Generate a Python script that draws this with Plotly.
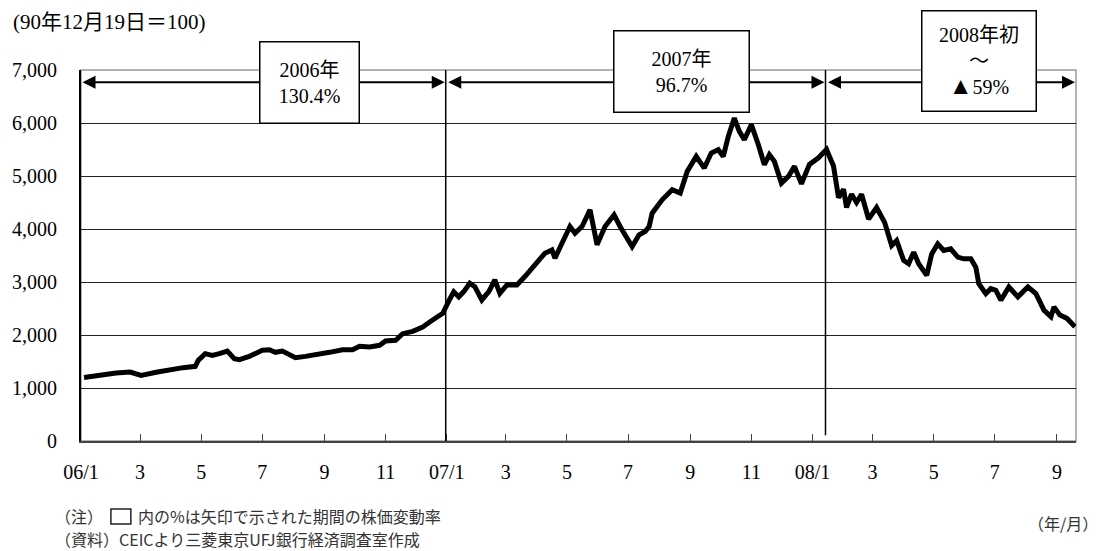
import plotly.graph_objects as go

# Shanghai composite index (1990-12-19 = 100), sampled roughly weekly
dates = [
    "2006-01-04", "2006-01-16", "2006-02-05", "2006-02-19", "2006-03-02", "2006-03-17",
    "2006-03-31", "2006-04-13", "2006-04-25", "2006-04-28", "2006-05-05", "2006-05-12",
    "2006-05-19", "2006-05-27", "2006-06-03", "2006-06-08", "2006-06-18", "2006-07-01",
    "2006-07-08", "2006-07-14", "2006-07-21", "2006-07-28", "2006-08-03", "2006-08-13",
    "2006-08-23", "2006-09-06", "2006-09-19", "2006-09-29", "2006-10-06", "2006-10-16",
    "2006-10-26", "2006-11-01", "2006-11-11", "2006-11-18", "2006-11-28", "2006-12-08",
    "2006-12-15", "2006-12-25", "2006-12-28", "2007-01-04", "2007-01-08", "2007-01-13",
    "2007-01-18", "2007-01-24", "2007-01-29", "2007-02-05", "2007-02-12", "2007-02-18",
    "2007-02-23", "2007-03-02", "2007-03-12", "2007-03-20", "2007-03-30", "2007-04-09",
    "2007-04-16", "2007-04-19", "2007-04-26", "2007-05-04", "2007-05-09", "2007-05-16",
    "2007-05-24", "2007-05-31", "2007-06-08", "2007-06-17", "2007-06-23", "2007-06-27",
    "2007-06-30", "2007-07-05", "2007-07-12", "2007-07-18", "2007-07-22", "2007-07-25",
    "2007-08-04", "2007-08-14", "2007-08-22", "2007-08-29", "2007-09-07", "2007-09-15",
    "2007-09-22", "2007-09-29", "2007-10-04", "2007-10-09", "2007-10-15", "2007-10-20",
    "2007-10-25", "2007-11-01", "2007-11-08", "2007-11-14", "2007-11-19", "2007-11-24",
    "2007-12-01", "2007-12-08", "2007-12-14", "2007-12-21", "2007-12-29", "2008-01-07",
    "2008-01-15", "2008-01-22", "2008-01-27", "2008-02-01", "2008-02-04", "2008-02-09",
    "2008-02-14", "2008-02-19", "2008-02-26", "2008-03-05", "2008-03-13", "2008-03-20",
    "2008-03-25", "2008-04-01", "2008-04-06", "2008-04-11", "2008-04-16", "2008-04-24",
    "2008-04-29", "2008-05-05", "2008-05-11", "2008-05-18", "2008-05-25", "2008-05-31",
    "2008-06-07", "2008-06-12", "2008-06-15", "2008-06-22", "2008-06-27", "2008-07-02",
    "2008-07-07", "2008-07-15", "2008-07-24", "2008-08-03", "2008-08-11", "2008-08-19",
    "2008-08-26", "2008-08-29", "2008-09-04", "2008-09-11", "2008-09-19",
]
index_values = [
    1200, 1233, 1283, 1302, 1239, 1296,
    1346, 1384, 1409, 1522, 1648, 1616,
    1648, 1698, 1553, 1535, 1597, 1711,
    1723, 1673, 1698, 1616, 1572, 1597,
    1623, 1673, 1723, 1723, 1786, 1774,
    1805, 1887, 1899, 2025, 2069, 2151,
    2245, 2371, 2409, 2675, 2815, 2720,
    2819, 2976, 2913, 2661, 2819, 3039,
    2787, 2945, 2945, 3102, 3323, 3543,
    3606, 3449, 3732, 4047, 3921, 4047,
    4362, 3701, 4047, 4268, 4047, 3921,
    3858, 3669, 3890, 3953, 4047, 4299,
    4551, 4740, 4677, 5087, 5370, 5150,
    5433, 5496, 5370, 5748, 6094, 5843,
    5685, 5969, 5591, 5213, 5402, 5276,
    4866, 4992, 5181, 4855, 5219, 5344,
    5500, 5188, 4590, 4750, 4406, 4656,
    4500, 4656, 4188, 4406, 4125, 3688,
    3781, 3406, 3344, 3563, 3344, 3125,
    3531, 3719, 3594, 3625, 3469, 3438,
    3438, 3281, 2969, 2781, 2875, 2844,
    2656, 2906, 2719, 2906, 2781, 2469,
    2344, 2531, 2375, 2313, 2156,
]

tick_dates = [
    "2006-01-01", "2006-03-01", "2006-05-01", "2006-07-01", "2006-09-01", "2006-11-01",
    "2007-01-01", "2007-03-01", "2007-05-01", "2007-07-01", "2007-09-01", "2007-11-01",
    "2008-01-01", "2008-03-01", "2008-05-01", "2008-07-01", "2008-09-01",
]
tick_labels = ["06/1", "3", "5", "7", "9", "11", "07/1", "3", "5", "7", "9", "11",
               "08/1", "3", "5", "7", "9"]

# Periods marked with arrows and their change rates
period_starts = ["2006-01-01", "2007-01-01", "2008-01-15"]
period_ends = ["2006-12-30", "2008-01-13", "2008-09-19"]
period_texts = [
    "2006年<br>130.4%",
    "2007年<br>96.7%",
    "2008年初<br>～<br><span style='font-size:24px'>▲</span>59%",
]
divider_dates = ["2006-12-31", "2008-01-14"]

W, H = 1103, 551
L, R, T, B = 78, 1076, 70, 441
SERIF = "Liberation Serif, Noto Sans CJK JP"
SANS = "Noto Sans CJK JP, Noto Sans"


def px_x(p):
    return (p - L) / (R - L)


def px_y(p):
    return (B - p) / (B - T)


fig = go.Figure()
fig.add_trace(go.Scatter(
    x=dates, y=index_values, mode="lines",
    line=dict(color="black", width=5), showlegend=False, hoverinfo="skip",
))

arrow_y = 6770
annotations = []
for s, e in zip(period_starts, period_ends):
    annotations.append(dict(
        x=e, y=arrow_y, ax=s, ay=arrow_y, xref="x", yref="y", axref="x", ayref="y",
        showarrow=True, arrowhead=2, startarrowhead=2, arrowside="end+start",
        arrowsize=1.3, startarrowsize=1.3, arrowwidth=2, arrowcolor="black", text="",
    ))

box_specs = [  # centre x date, centre y px, width, height
    ("2006-08-17", 83, 98, 80),
    ("2007-08-23", 71, 134, 80),
    ("2008-06-15", 61, 113, 99),
]
for (cx, cy, bw, bh), txt in zip(box_specs, period_texts):
    annotations.append(dict(
        x=cx, y=px_y(cy), xref="x", yref="paper", xanchor="center", yanchor="middle",
        text=txt, showarrow=False,
        width=bw, height=bh, borderpad=0, bgcolor="white", bordercolor="black",
        borderwidth=1.5, align="center", valign="middle",
        font=dict(family=SERIF, size=20, color="black"),
    ))

annotations += [
    dict(x=px_x(8), y=px_y(22), xref="paper", yref="paper", xanchor="left", yanchor="middle",
         text="(90年12月19日＝100)", showarrow=False,
         font=dict(family=SERIF, size=21, color="black")),
    dict(x=px_x(50), y=px_y(516), xref="paper", yref="paper", xanchor="left", yanchor="middle",
         text="（注）", showarrow=False, font=dict(family=SANS, size=16, color="#333")),
    dict(x=px_x(133), y=px_y(516), xref="paper", yref="paper", xanchor="left", yanchor="middle",
         text="内の%は矢印で示された期間の株価変動率", showarrow=False,
         font=dict(family=SANS, size=16, color="#333")),
    dict(x=px_x(50), y=px_y(539), xref="paper", yref="paper", xanchor="left", yanchor="middle",
         text="（資料）CEICより三菱東京UFJ銀行経済調査室作成", showarrow=False,
         font=dict(family=SANS, size=16, color="#333")),
    dict(x=px_x(1100), y=px_y(523), xref="paper", yref="paper", xanchor="right", yanchor="middle",
         text="（年/月）", showarrow=False, font=dict(family=SANS, size=16, color="#333")),
]

shapes = [
    dict(type="rect", xref="paper", yref="paper", x0=0, x1=1, y0=0, y1=1,
         line=dict(color="#999", width=1.5), layer="below"),
    dict(type="line", xref="x", yref="y", x0=divider_dates[0], x1=divider_dates[0],
         y0=0, y1=7150, line=dict(color="black", width=1.5)),
    dict(type="line", xref="x", yref="y", x0=divider_dates[1], x1=divider_dates[1],
         y0=110, y1=7230, line=dict(color="black", width=1.5)),
    dict(type="rect", xref="paper", yref="paper", x0=px_x(108), x1=px_x(128),
         y0=px_y(524), y1=px_y(509), line=dict(color="#222", width=1.5)),
]

fig.update_layout(
    width=W, height=H,
    margin=dict(l=L, r=W - R, t=T, b=H - B, pad=0),
    paper_bgcolor="white", plot_bgcolor="white",
    annotations=annotations, shapes=shapes,
    font=dict(family=SERIF, size=20, color="black"),
)
fig.update_xaxes(
    type="date", range=["2006-01-01", "2008-09-20"],
    tickmode="array", tickvals=tick_dates, ticktext=tick_labels,
    ticks="inside", ticklen=7, tickwidth=1, tickcolor="#444",
    showgrid=False, showline=True, linecolor="#444", linewidth=2,
    ticklabelstandoff=12, tickfont=dict(family=SERIF, size=20, color="black"),
    zeroline=False,
)
fig.update_yaxes(
    range=[0, 7000], dtick=1000, tickformat=",d",
    showgrid=True, gridcolor="#222", gridwidth=1,
    showline=True, linecolor="black", linewidth=2, ticks="",
    ticklabelstandoff=18, tickfont=dict(family=SERIF, size=20, color="black"),
    zeroline=False,
)

fig.write_html("out.html")
